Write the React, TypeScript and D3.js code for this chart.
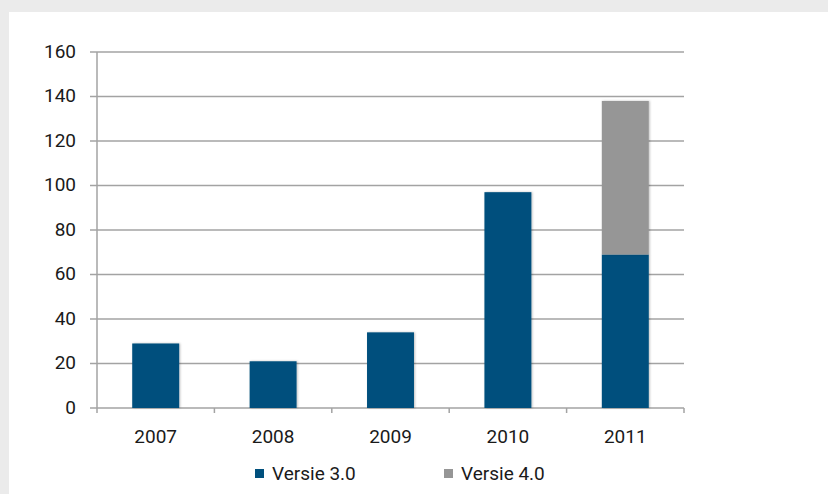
import React from "react";
import * as d3 from "d3";

const years = ["2007", "2008", "2009", "2010", "2011"];
const versie30 = [29, 21, 34, 97, 69];
const versie40 = [0, 0, 0, 0, 69];
const yTicks = [0, 20, 40, 60, 80, 100, 120, 140, 160];
const seriesNames = ["Versie 3.0", "Versie 4.0"];
const colors = ["#00507d", "#969696"];

export default function App() {
  const W = 828, H = 494;
  const left = 97, right = 684, top = 52, bottom = 408;
  const x = d3.scaleBand<string>().domain(years).range([left, right]).paddingInner(0.6).paddingOuter(0.3);
  const band = d3.scaleBand<string>().domain(years).range([left, right]);
  const y = d3.scaleLinear().domain([0, 160]).range([bottom, top]);
  const font = "Roboto, 'DejaVu Sans', sans-serif";
  const grid = "#a3a3a3";
  const fs = 19;
  const stack = d3.stack<any>().keys(["a", "b"])(years.map((yr, i) => ({ yr, a: versie30[i], b: versie40[i] })));
  return (
    <svg width={W} height={H} style={{ position: "absolute", left: 0, top: 0 }}>
      <defs>
        <filter id="sh" x="-20%" y="-5%" width="140%" height="110%">
          <feDropShadow dx="1" dy="0" stdDeviation="1.2" floodColor="#000" floodOpacity="0.25" />
        </filter>
      </defs>
      <rect x={0} y={0} width={W} height={H} fill="#ebebeb" />
      <rect x={9} y={12} width={W - 9} height={H - 12} fill="#ffffff" />
      {yTicks.map((t) => (
        <g key={t}>
          <line x1={90} x2={right} y1={y(t)} y2={y(t)} stroke={grid} strokeWidth={1.5} />
          <text x={76} y={y(t)} dy="0.3em" textAnchor="end" fontFamily={font} fontSize={fs} fill="#1a1a1a">{t}</text>
        </g>
      ))}
      <line x1={left} x2={left} y1={top} y2={bottom} stroke={grid} strokeWidth={1.5} />
      {years.map((yr) => (
        <line key={"t" + yr} x1={band(yr)!} x2={band(yr)!} y1={bottom} y2={bottom + 5} stroke={grid} strokeWidth={1.5} />
      ))}
      <line x1={right} x2={right} y1={bottom} y2={bottom + 5} stroke={grid} strokeWidth={1.5} />
      {stack.map((s, si) =>
        s.map((d, i) =>
          d[1] - d[0] > 0 ? (
            <rect key={si + "-" + i} x={x(years[i])!} width={x.bandwidth()} y={y(d[1])} height={y(d[0]) - y(d[1])} fill={colors[si]} filter="url(#sh)" />
          ) : null
        )
      )}
      {years.map((yr) => (
        <text key={"l" + yr} x={band(yr)! + band.bandwidth() / 2} y={443} textAnchor="middle" fontFamily={font} fontSize={fs} fill="#1a1a1a">{yr}</text>
      ))}
      {seriesNames.map((n, i) => (
        <g key={n} transform={`translate(${255 + i * 189},0)`}>
          <rect x={0} y={469} width={9} height={9} fill={colors[i]} />
          <text x={17} y={480} fontFamily={font} fontSize={fs} fill="#1a1a1a">{n}</text>
        </g>
      ))}
    </svg>
  );
}
